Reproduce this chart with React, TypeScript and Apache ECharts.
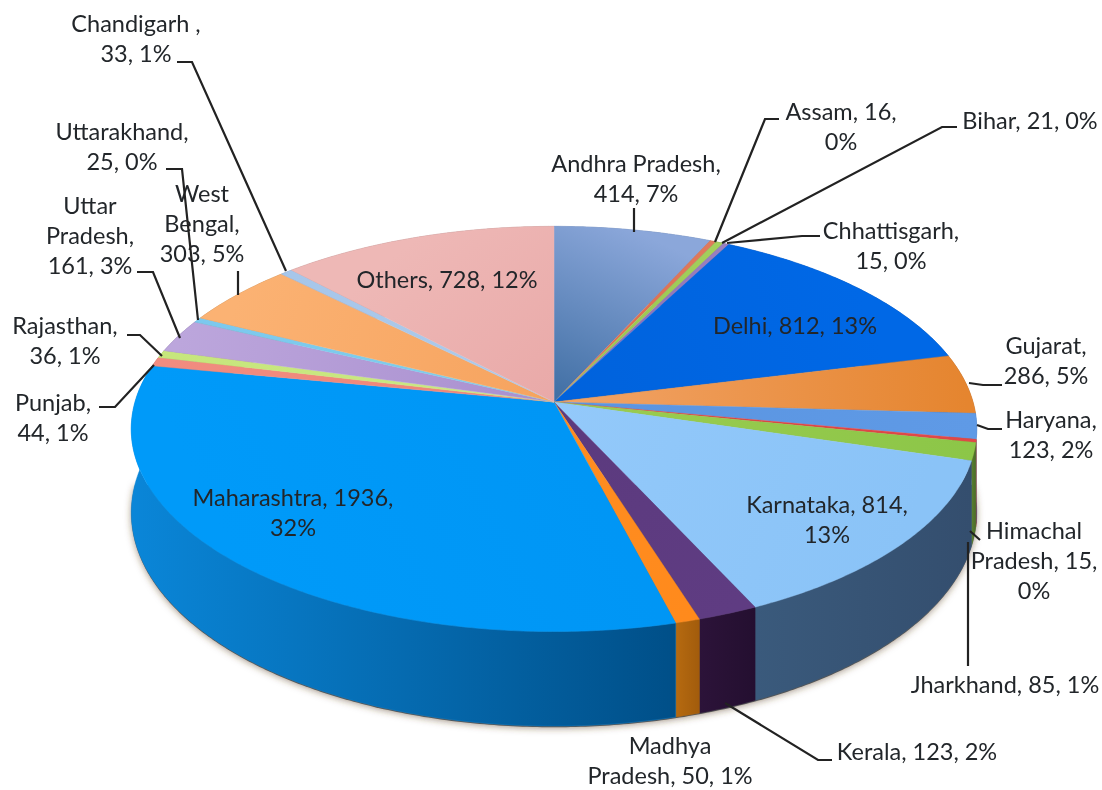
import React, { useEffect, useRef } from "react";
import * as echarts from "echarts";

const STATES = ["Andhra Pradesh","Assam","Bihar","Chhattisgarh","Delhi","Gujarat","Haryana","Himachal Pradesh","Jharkhand","Karnataka","Kerala","Madhya Pradesh","Maharashtra","Punjab","Rajasthan","Uttar Pradesh","Uttarakhand","West Bengal","Chandigarh","Others"];
const VALUES = [414,16,21,15,812,286,123,15,85,814,123,50,1936,44,36,161,25,303,33,728];

const TOP_INNER = ["#3f6ea3","#d9674a","#93c24c","#8468ac","#0062dc","#f2a468","#5a94e0","#d84040","#9ccc50","#93c9fa","#5b3a7e","#ff8d22","#0096f5","#ee8578","#cbe884","#a98fcf","#7fd0ea","#f6a35e","#aecbea","#e9a9a8"];
const TOP_OUTER = ["#8ba7da","#e07a5c","#a4d05c","#9a80c0","#0068e6","#e5852f","#5f9ae6","#e04848","#8cc648","#8ac3f7","#5f3c82","#ff8a1c","#009af9","#f18c80","#c6e67c","#bca6dc","#7cc8ee","#fbb273","#a6c6ea","#eeb8b6"];
const WALL_LEFT = ["#5f7ba8","#a04a34","#6c9036","#5c4880","#0b4fa6","#a85f20","#3f6fae","#a02828","#5a8030","#3a5a7c","#2c1339","#b66a10","#0a86d8","#b05a50","#94ae58","#7d68a0","#5898b0","#b87c44","#7c94b0","#ad8080"];
const WALL_RIGHT = ["#5f7ba8","#a04a34","#6c9036","#5c4880","#0b4fa6","#a85f20","#3f6fae","#a02828","#4a6c28","#344e6e","#240f30","#a25c0c","#004f88","#b05a50","#94ae58","#7d68a0","#5898b0","#b87c44","#7c94b0","#ad8080"];

const LABELS = [
  "Andhra Pradesh,\n414, 7%","Assam, 16,\n0%","Bihar, 21, 0%","Chhattisgarh,\n15, 0%","Delhi, 812, 13%","Gujarat,\n286, 5%","Haryana,\n123, 2%","Himachal\nPradesh, 15,\n0%","Jharkhand, 85, 1%","Karnataka, 814,\n13%","Kerala, 123, 2%","Madhya\nPradesh, 50, 1%","Maharashtra, 1936,\n32%","Punjab,\n44, 1%","Rajasthan,\n36, 1%","Uttar\nPradesh,\n161, 3%","Uttarakhand,\n25, 0%","West\nBengal,\n303, 5%","Chandigarh ,\n33, 1%","Others, 728, 12%",
];
const LABEL_CENTERS = [
  [636,178],[841,126],[1030,120],[891,245],[795,325],[1046,360],[1051,434],[1034,560],[1005,684],[827,519],[917,751],[670,760],[293,512],[53,417],[65,340],[90,235],[122,146],[202,223],[136,38],[447,279],
];
const LEADERS = [
  [[634,208],[634,232]],
  [[779,119],[765,119],[715,242]],
  [[957,127],[942,127],[722,243]],
  [[820,236],[802,236],[727,243]],
  [[1002,385],[983,385],[969,383]],
  [[1002,429],[988,429],[977,425]],
  [[980,540],[970,531]],
  [[968,666],[968,542]],
  [[832,760],[818,760],[725,703]],
  [[99,407],[115,407],[154,365]],
  [[127,335],[140,335],[162,356]],
  [[137,272],[153,272],[180,338]],
  [[166,169],[182,169],[198,320]],
  [[238,271],[238,295]],
  [[177,62],[192,62],[286,271]],
];

const TOTAL = VALUES.reduce((a, b) => a + b, 0);
const CX = 554, CY = 402, RX = 419, RY = 199, PERSP = 0.133, DEPTH = 82;

function project(theta: number, drop = 0): number[] {
  const X = Math.sin(theta), Z = Math.cos(theta), w = 1 + PERSP * Z;
  return [CX + (RX * X) / w, CY + (-RY * Z + drop) / w];
}
function angleSpan(i: number): number[] {
  let before = 0;
  for (let k = 0; k < i; k++) before += VALUES[k];
  const unit = (Math.PI * 2) / TOTAL;
  return [before * unit, (before + VALUES[i]) * unit];
}
function arc(a: number, b: number, drop = 0): number[][] {
  const n = Math.max(2, Math.ceil((b - a) / 0.01));
  const pts: number[][] = [];
  for (let s = 0; s <= n; s++) pts.push(project(a + ((b - a) * s) / n, drop));
  return pts;
}

const renderTop = (params: any) => {
  const i = params.dataIndex;
  const [a, b] = angleSpan(i);
  const pts = [[CX, CY], ...arc(a, b)];
  const mid = project((a + b) / 2);
  return {
    type: "polygon",
    shape: { points: pts },
    silent: true,
    style: {
      fill: { type: "linear", global: true, x: CX, y: CY, x2: mid[0], y2: mid[1], colorStops: [{ offset: 0, color: TOP_INNER[i] }, { offset: 1, color: TOP_OUTER[i] }] },
      stroke: TOP_OUTER[i],
      lineWidth: 0.4,
    },
  };
};
const renderWall = (params: any) => {
  const i = params.dataIndex;
  const [a, b] = angleSpan(i);
  const pts = [...arc(a, b), ...arc(a, b, DEPTH).reverse()];
  const xs = pts.map((p) => p[0]);
  return {
    type: "polygon",
    shape: { points: pts },
    silent: true,
    style: {
      fill: { type: "linear", global: true, x: Math.min(...xs), y: 0, x2: Math.max(...xs), y2: 0, colorStops: [{ offset: 0, color: WALL_LEFT[i] }, { offset: 1, color: WALL_RIGHT[i] }] },
      stroke: WALL_LEFT[i],
      lineWidth: 0.4,
    },
  };
};
const renderShadow = () => ({
  type: "polygon",
  shape: { points: arc(Math.PI / 2, (Math.PI * 3) / 2, DEPTH + 1) },
  silent: true,
  style: { fill: "#555", shadowBlur: 7, shadowColor: "rgba(90,60,30,0.55)", shadowOffsetY: 1 },
});

export default function App() {
  const ref = useRef<HTMLDivElement>(null);
  useEffect(() => {
    const chart = echarts.init(ref.current!, null, { renderer: "svg" });
    const labels = LABELS.map((text, i) => ({
      type: "text",
      z: 100,
      silent: true,
      x: LABEL_CENTERS[i][0],
      y: LABEL_CENTERS[i][1],
      style: { text, fill: "#22262a", font: '23.5px Lato', align: "center", verticalAlign: "middle", lineHeight: 30 },
    }));
    const lines = LEADERS.map((points) => ({
      type: "polyline",
      z: 101,
      silent: true,
      shape: { points },
      style: { stroke: "#222", lineWidth: 2.2, fill: "none" },
    }));
    chart.setOption({
      animation: false,
      backgroundColor: "#ffffff",
      graphic: { elements: [...labels, ...lines] },
      series: [
        { type: "custom", coordinateSystem: "none", z: 1, silent: true, data: [TOTAL], renderItem: renderShadow },
        { type: "custom", coordinateSystem: "none", z: 2, silent: true, data: VALUES, renderItem: renderWall },
        { type: "custom", coordinateSystem: "none", z: 3, silent: true, data: VALUES, name: STATES.join(","), renderItem: renderTop },
      ],
    });
    return () => chart.dispose();
  }, []);
  return <div ref={ref} style={{ position: "fixed", left: 0, top: 0, width: 1102, height: 790, filter: "blur(0.5px)" }} />;
}
